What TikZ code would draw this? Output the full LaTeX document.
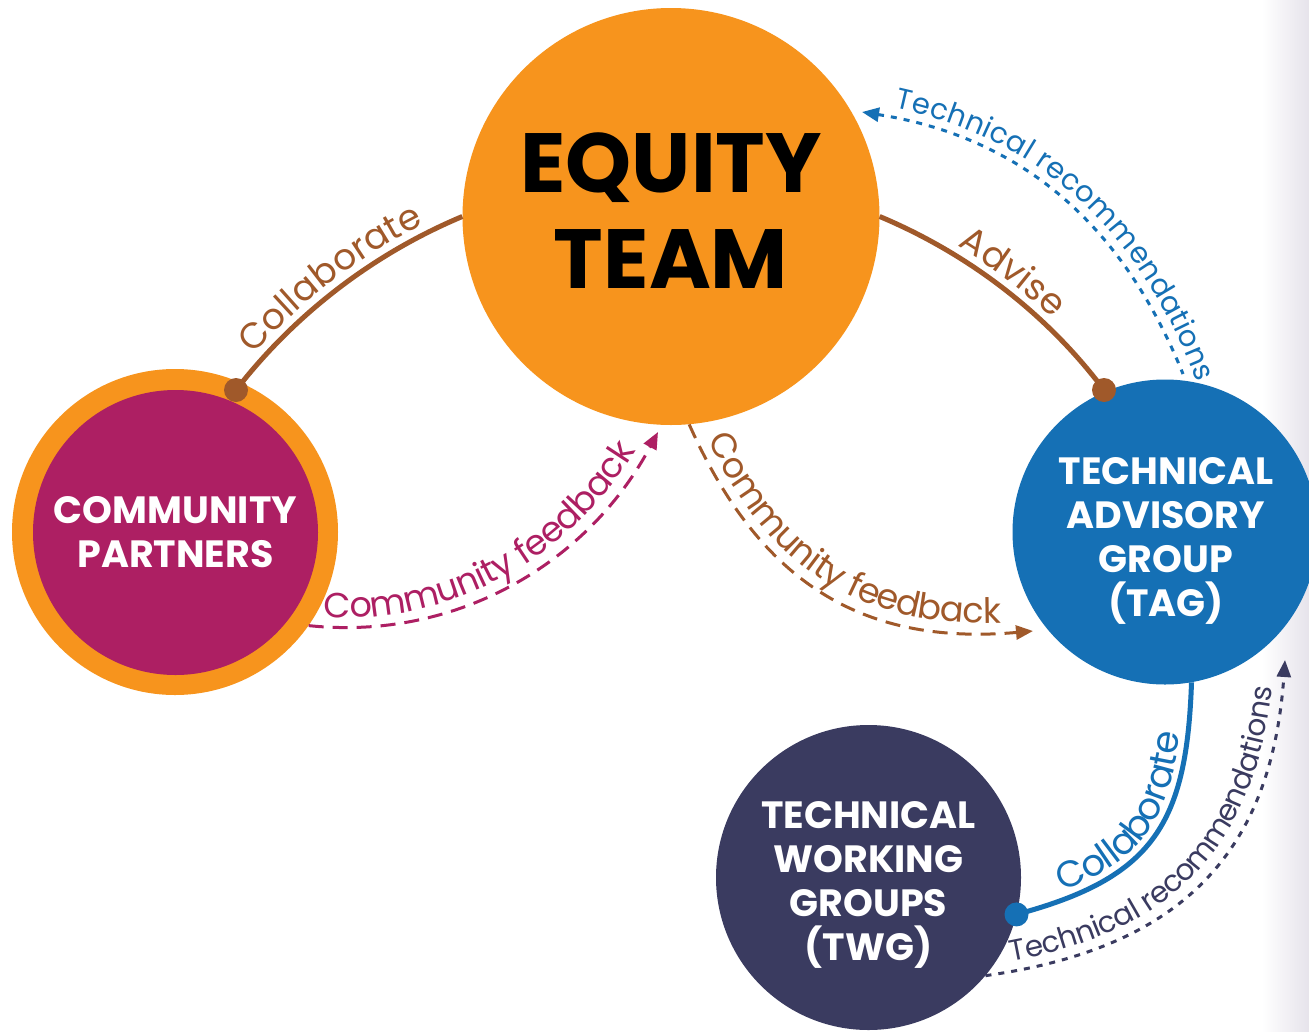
\documentclass[tikz,border=0pt]{standalone}
\usepackage{fontspec}
\setmainfont{Poppins}
\usetikzlibrary{arrows.meta,decorations.text,calc}
\definecolor{eqorange}{HTML}{F7941D}
\definecolor{cpmag}{HTML}{AD1F63}
\definecolor{tagblue}{HTML}{1570B5}
\definecolor{twgnavy}{HTML}{3A3B60}
\definecolor{brownc}{HTML}{A0592A}
\definecolor{stripc}{HTML}{E6E3EB}
\begin{document}
\begin{tikzpicture}[x=1pt,y=1pt,
  bigcircle/.style={circle, inner sep=0pt},
  circletext/.style={align=center, inner sep=0pt, text=white, font=\bfseries\fontsize{38}{44}\selectfont},
  solidlink/.style={line width=5pt},
  dashlink/.style={line width=3pt, dash pattern=on 15pt off 9pt},
  dotlink/.style={line width=3pt, dash pattern=on 6pt off 7pt},
  tipend/.style={-{Triangle[length=17pt,width=14pt]}},
  tipstart/.style={{Triangle[length=17pt,width=14pt]}-},
  dotmark/.style={circle, inner sep=0pt, minimum size=24pt},
  ]
\useasboundingbox (0,0) rectangle (1309,-1031);
\fill[white] (0,0) rectangle (1309,-1031);
\shade[left color=white, right color=stripc] (1262,0) rectangle (1309,-1031);

% circles
\node[bigcircle, fill=eqorange, minimum size=417pt] (eq) at (671,-216.5) {};
\node[align=center, inner sep=0pt, font=\bfseries\fontsize{84}{96}\selectfont] (eqtext) at (671,-211) {EQUITY\\TEAM};
\node[bigcircle, fill=eqorange, minimum size=326pt] (cpo) at (175,-532) {};
\node[bigcircle, fill=cpmag, minimum size=285pt] (cp) at (175.5,-532.5) {};
\node[circletext] (cptext) at (175.5,-532) {COMMUNITY\\PARTNERS};
\node[bigcircle, fill=tagblue, minimum size=305pt] (tag) at (1165,-532) {};
\node[circletext] (tagtext) at (1166,-541) {TECHNICAL\\ADVISORY\\GROUP\\(TAG)};
\node[bigcircle, fill=twgnavy, minimum size=305pt] (twg) at (868.5,-877.5) {};
\node[circletext] (twgtext) at (868.5,-885) {TECHNICAL\\WORKING\\GROUPS\\(TWG)};

% coordinates
\coordinate (mEnd) at (658,-432);
\coordinate (bEnd) at (1033,-631);
\coordinate (tEnd) at (862,-112);
\coordinate (tStart) at (1183,-374);
\coordinate (dEnd) at (1285,-660);
\node[dotmark] (dA) at (236,-390) {};
\node[dotmark] (dB) at (1104,-390) {};
\node[dotmark] (dC) at (1016.5,-914.4) {};

% Collaborate (left)
\draw[solidlink, brownc] (dA.center) .. controls (295,-314) and (373,-254) .. (eq.west);
\path[decorate, decoration={text along path, text align=center, raise=9pt,
  text={|\fontsize{36}{36}\selectfont\color{brownc}|Collaborate}}]
  (dA.center) .. controls (295,-314) and (373,-254) .. (eq.west);

% Advise
\draw[solidlink, brownc] (eq.east) .. controls (969,-254) and (1047,-314) .. (dB.center);
\path[decorate, decoration={text along path, text align={left indent=82pt}, raise=9pt,
  text={|\fontsize{36}{36}\selectfont\color{brownc}|Advise}}]
  (eq.east) .. controls (969,-254) and (1047,-314) .. (dB.center);

% Technical recommendations (top)
\draw[dotlink, tagblue, tipstart] (tEnd) to[out=-9, in=112, looseness=1] (tStart);
\path[decorate, decoration={text along path, text align={left indent=31pt}, raise=10pt,
  text={|\fontsize{29}{29}\selectfont\color{tagblue}|Technical recommendations}}]
  (tEnd) to[out=-9, in=112, looseness=1] (tStart) -- ++(-68:60);

% Community feedback (magenta)
\draw[dashlink, cpmag, tipend] (cpo.-35) to[out=-6, in=-118, looseness=0.95] (mEnd);
\path[decorate, decoration={text along path, text align={left indent=15pt}, raise=10pt,
  text={|\fontsize{35}{35}\selectfont\color{cpmag}|Community feedback}}]
  (cpo.-35) to[out=-6, in=-118, looseness=0.95] (mEnd);

% Community feedback (brown)
\draw[dashlink, brownc, tipend] (eq.-85) to[out=-66, in=185, looseness=1.1] (bEnd);
\path[decorate, decoration={text along path, text align={left indent=22pt}, raise=10pt,
  text={|\fontsize{35}{35}\selectfont\color{brownc}|Community feedback}}]
  (eq.-85) to[out=-66, in=185, looseness=1.1] (bEnd);

% Collaborate (blue)
\draw[solidlink, tagblue] (dC.center) to[out=15, in=-92, looseness=1.25] (tag.-80);
\path[decorate, decoration={text along path, text align=center, raise=8pt,
  text={|\fontsize{37}{37}\selectfont\color{tagblue}|Collaborate}}]
  (dC.center) to[out=15, in=-92, looseness=1.25] (tag.-80);

% Technical recommendations (bottom)
\draw[dotlink, twgnavy, tipend] (twg.-40) to[out=8, in=-94, looseness=1.15] (dEnd);
\path[decorate, decoration={text along path, text align=center, raise=10pt,
  text={|\fontsize{29.5}{29.5}\selectfont\color{twgnavy}|Technical recommendations}}]
  (twg.-40) to[out=8, in=-94, looseness=1.15] (dEnd);

% dots
\fill[brownc] (dA) circle (12pt);
\fill[brownc] (dB) circle (12pt);
\fill[tagblue] (dC) circle (12pt);
\end{tikzpicture}
\end{document}
